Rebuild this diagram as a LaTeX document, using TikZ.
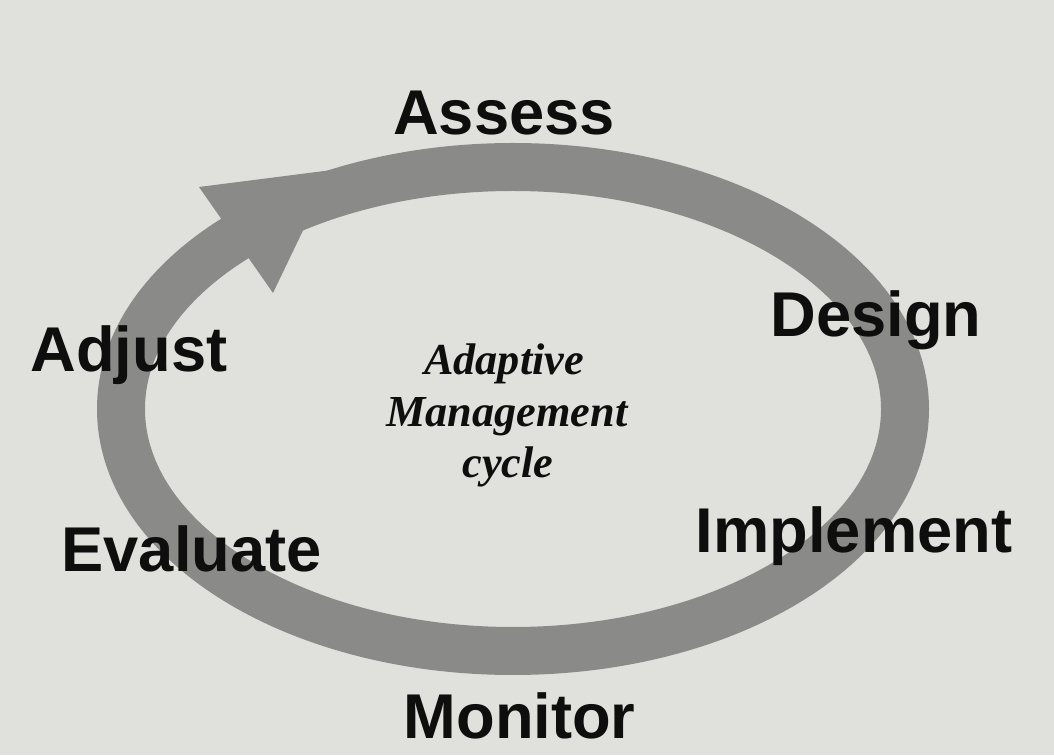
\documentclass[tikz,border=0pt]{standalone}
\usepackage{fontspec}
\setmainfont{Liberation Serif}
\newfontfamily\stagefont{Liberation Sans}
\definecolor{screenbg}{RGB}{224,224,221}
\definecolor{ringgray}{RGB}{138,138,136}
\definecolor{inkblack}{RGB}{14,14,14}
\begin{document}
\begin{tikzpicture}[
  stage/.style={anchor=base,inner sep=0pt,text=inkblack,font=\stagefont\bfseries\fontsize{45}{50}\selectfont},
  centre/.style={anchor=base,inner sep=0pt,text=inkblack,font=\bfseries\itshape\fontsize{31.5}{38}\selectfont},
  ring/.style={draw=ringgray,line width=1.2cm}
]
\useasboundingbox (0,0) rectangle (26.35,18.875);
\fill[screenbg] (0,0) rectangle (26.35,18.875);
%\draw[step=1cm,gray,very thin] (0,0) grid (26,18); %background grid
\draw[ring] (12.825,8.65) ellipse (9.8cm and 6.05cm);
\fill[ringgray] (4.975,14.2) -- (6.825,11.55) -- (8.3,14.625) -- cycle;
\node[stage] (assess) at (12.6,15.5) {Assess};
\node[stage] (design) at (21.9,10.45) {Design};
\node[stage] (implement) at (21.35,5.05) {Implement};
\node[stage] (monitor) at (12.99,0.425) {Monitor};
\node[stage] (evaluate) at (4.79,4.575) {Evaluate};
\node[stage] (adjust) at (3.225,9.575) {Adjust};
\node[centre] (adaptive) at (12.6,9.5) {Adaptive};
\node[centre] (management) at (12.675,8.2) {Management};
\node[centre] (cyclelabel) at (12.7,6.925) {cycle};
\end{tikzpicture}
\end{document}
